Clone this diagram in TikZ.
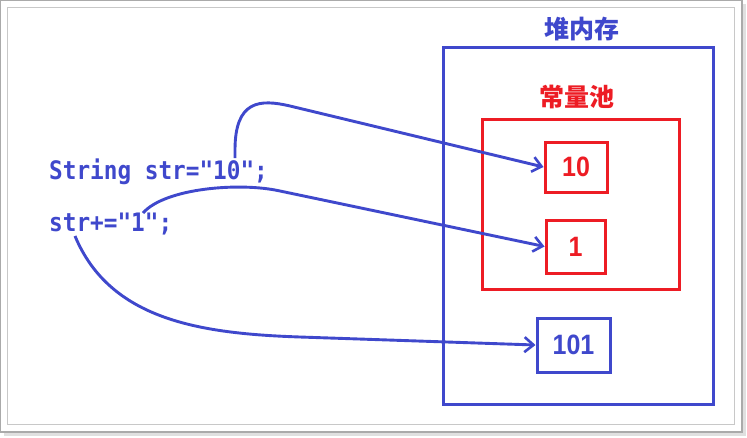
\documentclass[tikz,border=0pt]{standalone}
\usepackage{fontspec}
\usepackage{graphicx}
\setmonofont{DejaVu Sans Mono}
\newfontfamily\cjk{Noto Sans CJK SC}
\newfontfamily\numfont{Liberation Sans}
\usetikzlibrary{arrows.meta}
\definecolor{myblue}{RGB}{63,72,204}
\definecolor{myred}{RGB}{237,28,36}
\definecolor{framegray}{RGB}{170,170,170}
\definecolor{innergray}{RGB}{200,200,200}
\newcommand{\tall}[1]{\scalebox{1}[1.12]{#1}}
\tikzset{
  heapbox/.style={draw=myblue, line width=3pt},
  poolbox/.style={draw=myred, line width=3pt},
  valbox/.style={line width=3pt, inner sep=0pt, font=\numfont\bfseries\fontsize{25}{25}\selectfont},
  codetext/.style={anchor=base west, inner sep=0pt, text=myblue, font=\ttfamily\bfseries\fontsize{22.7}{24}\selectfont},
  cjktext/.style={inner sep=0pt, font=\cjk\bfseries\fontsize{25}{26}\selectfont},
  ref/.style={draw=myblue, line width=2.9pt, -{Straight Barb[length=9pt,width=15pt,line width=2.6pt]}}
}
\begin{document}
\begin{tikzpicture}[x=1pt,y=-1pt]
\useasboundingbox (0,0) rectangle (747,437);
% frame with shadow
\fill[black!12] (4,4) rectangle (746,436);
\fill[white, draw=framegray, line width=1.2pt] (0.6,0.6) rectangle (742,432);
\draw[innergray, line width=1pt] (7,7) rectangle (734,424);
% heap
\node[heapbox, minimum width=270pt, minimum height=357pt, inner sep=0pt] (heap) at (578,225.5) {};
\node[cjktext, text=myblue] (heaplabel) at (582,29) {堆内存};
% pool
\node[poolbox, minimum width=197pt, minimum height=170pt, inner sep=0pt] (pool) at (580.5,204) {};
\node[cjktext, text=myred] (poollabel) at (577,97) {常量池};
% values
\node[valbox, draw=myred, text=myred, minimum width=62pt, minimum height=50pt] (b10) at (576,167) {\tall{10}};
\node[valbox, draw=myred, text=myred, minimum width=59pt, minimum height=53pt] (b1) at (575.5,246.5) {\tall{1}};
\node[valbox, draw=myblue, text=myblue, minimum width=73pt, minimum height=54pt] (b101) at (573.5,345) {\tall{101}};
% code
\node[codetext] (line1) at (49,179) {\tall{String str="10";}};
\node[codetext] (line2) at (49,231) {\tall{str+="1";}};
% connector start points
\coordinate (s1) at (235,158);
\coordinate (s2) at (143,213);
\coordinate (s3) at (75,236);
% connectors
\draw[ref] (s1) -- (235,150) .. controls (235,100) and (260,99) .. (290,106) -- (b10.west);
\draw[ref] (s2) .. controls (165,188) and (240,182) .. (280,191) -- (b1.west);
\draw[ref] (s3) .. controls (110,320) and (200,333.6) .. (300,337) -- (b101.west);
\end{tikzpicture}
\end{document}
